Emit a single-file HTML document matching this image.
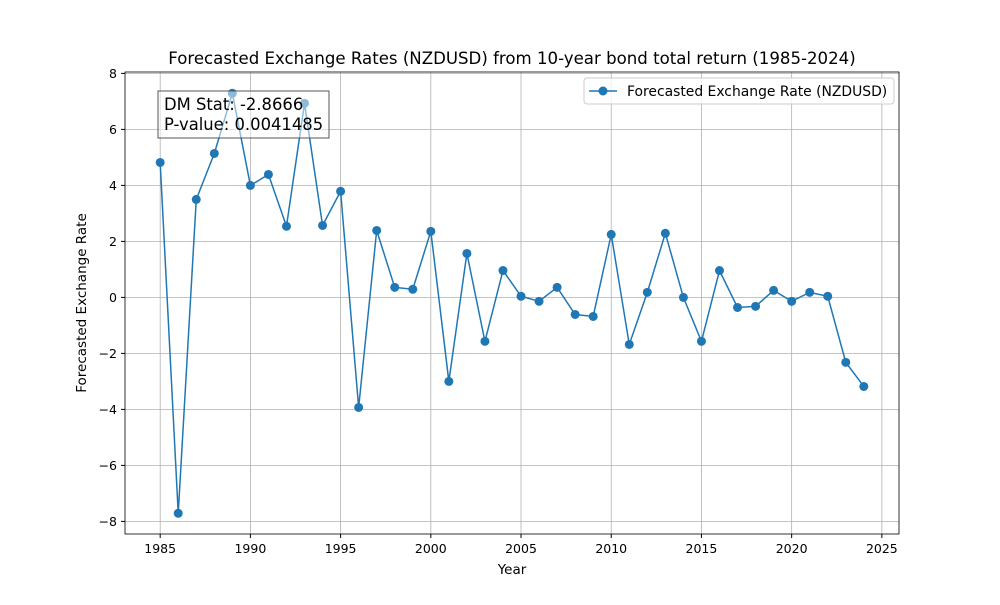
<!DOCTYPE html>
<html><head><meta charset="utf-8"><style>
body{margin:0;background:#fff;}
svg text{font-family:"DejaVu Sans","Liberation Sans",sans-serif;}
</style></head><body>
<svg id="chart" width="1000" height="600" xmlns="http://www.w3.org/2000/svg">
<rect width="1000" height="600" fill="#fff"/>
<g id="grid"></g><g id="axes"></g><g id="series"></g>
<text x="512" y="64" text-anchor="middle" font-size="16.6">Forecasted Exchange Rates (NZDUSD) from 10-year bond total return (1985-2024)</text>
<text x="512" y="574" text-anchor="middle" font-size="13.5">Year</text>
<text transform="translate(86,303) rotate(-90)" text-anchor="middle" font-size="13.5">Forecasted Exchange Rate</text>
<g>
<rect x="584" y="78" width="310" height="26" fill="#fff" fill-opacity="0.8" stroke="#ccc" rx="3"/>
<line x1="589" y1="91" x2="617" y2="91" stroke="#1f77b4" stroke-width="1.5"/>
<circle cx="603" cy="91" r="4.5" fill="#1f77b4"/>
<text x="627" y="96" font-size="13.9">Forecasted Exchange Rate (NZDUSD)</text>
</g>
</svg>
<script>
const years=[];for(let y=1985;y<=2024;y++)years.push(y);
const values=[4.82,-7.71,3.5,5.14,7.29,4.0,4.39,2.54,6.93,2.57,3.79,-3.93,2.39,0.36,0.29,2.36,-3.0,1.57,-1.57,0.96,0.04,-0.14,0.36,-0.61,-0.68,2.25,-1.68,0.18,2.29,0.0,-1.57,0.96,-0.36,-0.32,0.25,-0.14,0.18,0.04,-2.32,-3.18];
const xTicks=[1985,1990,1995,2000,2005,2010,2015,2020,2025];
const yTicks=[-8,-6,-4,-2,0,2,4,6,8];
const L=125,R=899,T=72,B=534,xmin=1983.05,xmax=2025.95,ymin=-8.45,ymax=8.05;
const sx=v=>L+(v-xmin)/(xmax-xmin)*(R-L);
const sy=v=>B-(v-ymin)/(ymax-ymin)*(B-T);
const NS="http://www.w3.org/2000/svg";
function mk(t,a,p){const e=document.createElementNS(NS,t);for(const k in a)e.setAttribute(k,a[k]);p.appendChild(e);return e;}
const grid=document.getElementById('grid'),axes=document.getElementById('axes'),ser=document.getElementById('series');
xTicks.forEach(t=>{const x=sx(t);
const g=mk('line',{x1:x,x2:x,y1:T,y2:B,stroke:'#b0b0b0','stroke-width':0.8},grid);


mk('line',{x1:x,x2:x,y1:B,y2:B+4,stroke:'#000'},axes);
const tx=mk('text',{x:x,y:B+19,'text-anchor':'middle','font-size':12.5},axes);tx.textContent=t;

});
yTicks.forEach(t=>{const y=sy(t);
const g=mk('line',{x1:L,x2:R,y1:y,y2:y,stroke:'#b0b0b0','stroke-width':0.8},grid);


mk('line',{x1:L-4,x2:L,y1:y,y2:y,stroke:'#000'},axes);
const tx=mk('text',{x:L-8,y:y+4.5,'text-anchor':'end','font-size':12.5},axes);tx.textContent=t<0?'\u2212'+(-t):t;

});
const fr=mk('rect',{x:L,y:T,width:R-L,height:B-T,fill:'none',stroke:'#000','stroke-width':0.8},axes);


const pl=mk('polyline',{points:years.map((y,i)=>sx(y)+','+sy(values[i])).join(' '),fill:'none',stroke:'#1f77b4','stroke-width':1.5},ser);


years.forEach((y,i)=>{const c=mk('circle',{cx:sx(y),cy:sy(values[i]),r:4.5,fill:'#1f77b4'},ser);

});
const box=mk('g',{},document.getElementById('chart'));


mk('rect',{x:158,y:91,width:171,height:47,fill:'#fff','fill-opacity':0.5,stroke:'#555'},box);
const t1=mk('text',{x:164,y:110,'font-size':16.4},box);t1.textContent='DM Stat: -2.8666';
const t2=mk('text',{x:164,y:130,'font-size':16.4},box);t2.textContent='P-value: 0.0041485';
</script>
</body></html>
